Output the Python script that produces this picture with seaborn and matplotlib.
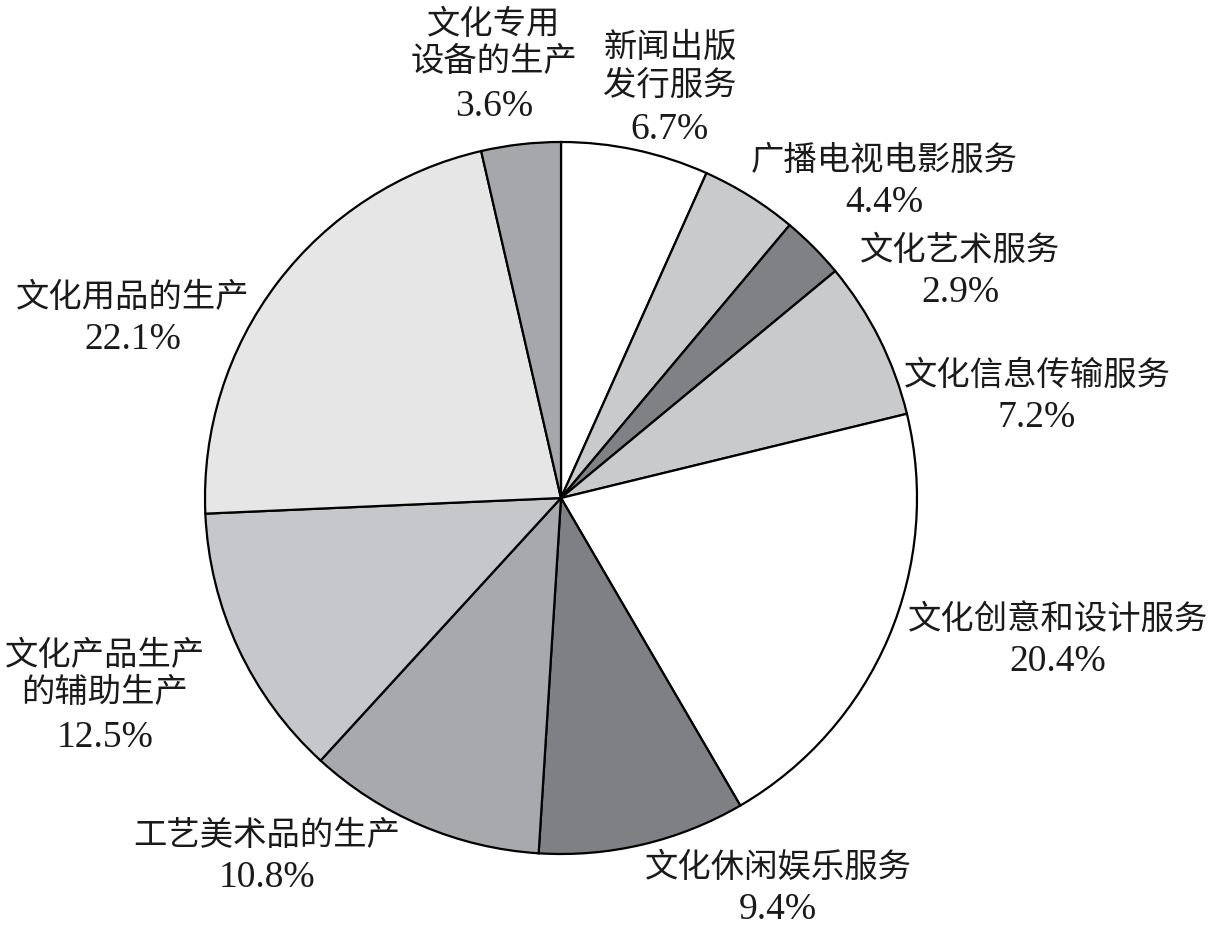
import matplotlib
matplotlib.use("Agg")
from matplotlib import pyplot as plt
import seaborn as sns

# Data (clockwise from 12 o'clock)
categories = ["新闻出版\n发行服务", "广播电视电影服务", "文化艺术服务", "文化信息传输服务",
              "文化创意和设计服务", "文化休闲娱乐服务", "工艺美术品的生产",
              "文化产品生产\n的辅助生产", "文化用品的生产", "文化专用\n设备的生产"]
shares = [6.7, 4.4, 2.9, 7.2, 20.4, 9.4, 10.8, 12.5, 22.1, 3.6]

# Styles / label positions (pixels in the 1210x930 picture; y = percentage line)
colors = ["#ffffff", "#c9cacc", "#808185", "#c9cacc", "#ffffff",
          "#7f8084", "#a8a9ac", "#c6c7ca", "#e6e6e6", "#a6a7aa"]
label_px = [(670, 130), (884, 203), (960, 293), (1037, 418), (1058, 662),
            (778, 910), (267, 878), (105, 738), (133, 340), (494, 107)]

sns.set_style("white")
plt.rcParams['font.family'] = ['Liberation Serif', 'Noto Sans CJK SC', 'DejaVu Sans']

W, H = 1210, 930
cx, cy, r = 561, 498, 356
line_h = 42
fig = plt.figure(figsize=(W / 100, H / 100), dpi=100)
ax = fig.add_axes([(cx - r) / W, (H - cy - r) / H, 2 * r / W, 2 * r / H])

ax.pie(shares, colors=colors, startangle=90, counterclock=False, radius=1,
       wedgeprops=dict(edgecolor="black", linewidth=1.6))
ax.set_xlim(-1, 1)
ax.set_ylim(-1, 1)
ax.set_aspect("equal")
ax.axis("off")

for name, val, (px, py) in zip(categories, shares, label_px):
    n = name.count("\n") + 1
    name_y = py - line_h * (n + 1) / 2
    ax.text((px - cx) / r, (cy - name_y) / r, name,
            ha="center", va="center", fontsize=24, linespacing=1.25,
            color="#1a1a1a", clip_on=False)
    ax.text((px - cx) / r, (cy - py) / r, f"{val:.1f}%",
            ha="center", va="center", fontsize=27,
            color="#1a1a1a", clip_on=False)

fig.savefig("out.png", dpi=100)
